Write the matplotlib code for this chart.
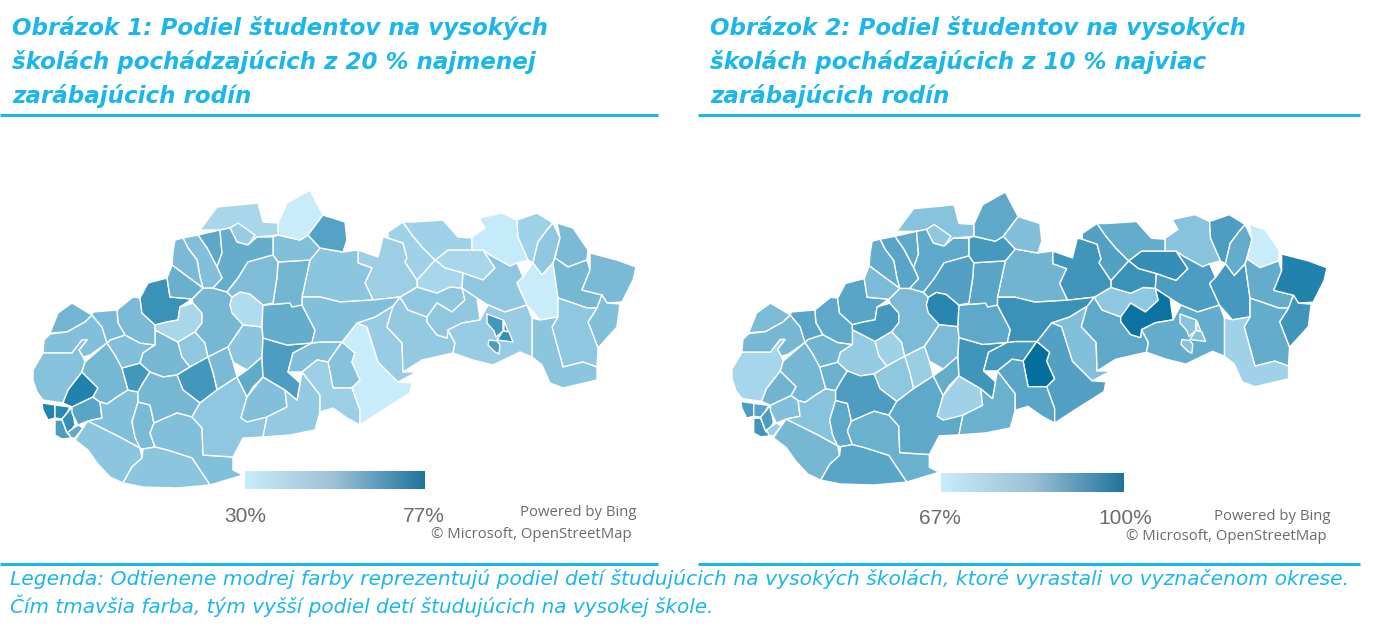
import matplotlib
matplotlib.use("Agg")
import matplotlib.pyplot as plt
import numpy as np
from matplotlib.collections import PolyCollection
from matplotlib.colors import LinearSegmentedColormap, Normalize

# okresy: obrysy odcitane z obrazka (x, y v pixeloch laveho obrazka)
okresy = {
    "Skalica": [(50,333),(58,313),(72,303),(92,315),(85,322),(67,332)],
    "Senica": [(50,334),(67,332),(85,322),(92,315),(102,327),(107,343),(90,355),(83,357),(79,350),(87,340),(82,340),(72,353),(43,353),(44,340)],
    "Malacky": [(33,370),(43,353),(72,353),(82,340),(87,340),(79,350),(83,357),(85,362),(82,372),(68,390),(63,403),(43,400),(37,392),(33,380)],
    "Pezinok": [(82,372),(98,388),(93,397),(72,407),(63,403),(68,390)],
    "Bratislava IV": [(42,403),(55,405),(55,418),(48,420),(43,410)],
    "Bratislava III": [(55,405),(70,407),(67,413),(62,419),(55,418)],
    "Bratislava V": [(55,420),(62,420),(67,433),(72,438),(62,439),(55,435)],
    "Bratislava II": [(62,419),(67,413),(72,407),(75,425),(70,432),(67,433)],
    "Bratislava I": [(68,432),(78,425),(83,428),(75,438),(71,438)],
    "Senec": [(72,407),(93,397),(100,402),(102,418),(88,421),(78,425),(72,413)],
    "Dunajska Streda": [(75,440),(83,428),(88,421),(100,427),(120,437),(140,448),(142,458),(132,467),(123,483),(110,477),(97,463),(88,450)],
    "Trnava": [(85,362),(107,343),(115,355),(122,368),(128,390),(117,397),(107,404),(100,402),(93,397),(98,388),(82,372)],
    "Galanta": [(102,418),(100,402),(107,404),(117,397),(128,390),(138,392),(138,402),(132,422),(135,437),(140,448),(120,437),(100,427),(88,421)],
    "Sala": [(138,402),(150,405),(154,423),(150,433),(155,447),(143,449),(140,448),(135,437),(132,422)],
    "Hlohovec": [(122,368),(140,363),(150,372),(143,383),(138,392),(128,390)],
    "Piestany": [(110,340),(125,335),(140,343),(155,345),(143,353),(140,363),(122,368),(115,355),(107,343)],
    "Topolcany": [(155,330),(178,342),(182,357),(190,367),(177,375),(163,377),(150,372),(140,363),(143,353),(155,345)],
    "Nove Mesto": [(117,310),(133,297),(140,298),(142,313),(155,325),(155,345),(140,343),(125,335),(118,323)],
    "Myjava": [(93,312),(117,310),(118,323),(125,335),(110,340),(107,343),(102,327),(92,315)],
    "Trencin": [(148,283),(167,278),(170,297),(192,299),(180,307),(178,320),(167,322),(155,325),(142,313),(140,298)],
    "Banovce": [(180,307),(193,303),(202,313),(202,323),(195,332),(178,342),(155,330),(155,325),(167,322),(178,320)],
    "Partizanske": [(195,332),(205,343),(208,357),(190,367),(182,357),(178,342)],
    "Prievidza": [(192,299),(203,288),(213,288),(227,292),(232,297),(230,305),(243,325),(228,347),(208,357),(205,343),(195,332),(202,323),(202,313),(193,303)],
    "Turcianske Teplice": [(232,297),(240,292),(250,294),(263,305),(262,327),(243,325),(232,313),(230,305)],
    "Ziar": [(243,325),(262,327),(263,338),(262,357),(247,370),(233,362),(228,347)],
    "Zarnovica": [(228,347),(233,362),(237,377),(217,390),(213,373),(208,357)],
    "Zlate Moravce": [(208,357),(213,373),(217,390),(200,403),(183,390),(177,375),(190,367)],
    "Nitra": [(150,372),(163,377),(177,375),(183,390),(200,403),(192,417),(177,413),(154,423),(150,405),(138,402),(138,392),(143,383)],
    "Nove Zamky": [(154,423),(177,413),(192,417),(202,428),(203,455),(233,457),(233,470),(243,475),(210,485),(192,458),(167,450),(155,447),(150,433)],
    "Komarno": [(123,483),(132,467),(142,458),(143,449),(155,447),(167,450),(192,458),(210,485),(177,488),(143,487)],
    "Levice": [(192,417),(200,403),(217,390),(237,377),(247,397),(241,418),(267,417),(263,437),(243,438),(233,457),(203,455),(202,428)],
    "Banska Stiavnica": [(237,377),(247,370),(262,357),(263,377),(253,387),(247,397)],
    "Krupina": [(247,397),(263,377),(285,390),(287,407),(267,417),(247,422),(241,418)],
    "Velky Krtis": [(267,417),(287,407),(285,390),(297,400),(302,372),(320,395),(320,412),(315,430),(290,435),(263,437)],
    "Zvolen": [(263,338),(287,345),(312,343),(293,353),(288,372),(300,383),(297,400),(285,390),(263,377),(262,357)],
    "Banska Bystrica": [(263,305),(290,303),(302,305),(315,330),(312,343),(287,345),(263,338),(262,327)],
    "Detva": [(312,343),(320,342),(342,342),(328,362),(317,360),(302,372),(288,372),(293,353)],
    "Poltar": [(328,362),(342,342),(355,353),(352,362),(360,380),(352,388),(333,388)],
    "Lucenec": [(302,372),(317,360),(328,362),(333,388),(352,388),(360,410),(360,425),(347,418),(333,408),(320,412),(320,395)],
    "Rimavska Sobota": [(342,342),(357,323),(367,327),(378,362),(398,382),(412,383),(410,393),(383,410),(360,425),(360,410),(352,388),(360,380),(352,362),(355,353)],
    "Revuca": [(357,323),(375,317),(393,306),(387,327),(402,343),(403,372),(417,372),(398,382),(378,362),(367,327)],
    "Roznava": [(393,306),(400,297),(408,310),(427,317),(427,322),(437,335),(447,338),(448,330),(455,343),(453,353),(422,360),(403,372),(402,343),(387,327)],
    "Spisska Nova Ves": [(400,297),(417,287),(437,293),(450,287),(462,288),(465,300),(452,312),(437,303),(427,317),(408,310)],
    "Gelnica": [(427,317),(437,303),(452,312),(465,300),(462,288),(477,298),(480,320),(462,323),(448,330),(447,338),(437,335),(427,322)],
    "Levoca": [(435,260),(448,250),(483,250),(495,268),(483,280),(463,273),(445,268)],
    "Sabinov": [(435,260),(445,268),(463,273),(462,288),(450,287),(437,293),(417,287),(417,280)],
    "Poprad": [(372,268),(365,283),(373,300),(400,297),(417,287),(417,280),(405,262),(407,258),(403,243),(388,238),(383,237),(378,257),(358,250),(358,263)],
    "Kezmarok": [(388,232),(403,222),(412,235),(422,247),(435,260),(417,280),(405,262),(407,258),(403,243),(388,238)],
    "Stara Lubovna": [(403,222),(413,222),(443,220),(458,237),(472,238),(472,250),(448,250),(435,260),(422,247),(412,235)],
    "Bardejov": [(472,237),(485,228),(479,218),(502,213),(517,220),(518,237),(528,260),(517,263),(510,266),(490,255),(483,250),(472,250)],
    "Presov": [(463,273),(483,280),(495,268),(483,250),(490,255),(510,266),(517,263),(523,277),(517,283),(527,305),(505,312),(488,305),(477,298),(462,288)],
    "Svidnik": [(517,220),(537,213),(553,223),(547,230),(538,242),(533,263),(528,260),(518,237)],
    "Stropkov": [(547,230),(553,223),(560,238),(553,263),(542,275),(533,263),(538,242)],
    "Medzilaborce": [(557,223),(573,228),(588,250),(587,260),(568,267),(555,258),(560,238)],
    "Vranov": [(533,263),(542,275),(553,263),(558,298),(558,317),(540,320),(527,305),(517,283),(523,277)],
    "Humenne": [(555,258),(568,267),(587,260),(590,270),(582,290),(602,295),(597,308),(587,308),(570,302),(558,298),(553,263)],
    "Snina": [(590,253),(617,260),(636,267),(633,280),(622,302),(607,303),(602,295),(582,290),(590,270)],
    "Sobrance": [(602,295),(607,303),(620,304),(617,327),(598,348),(588,322),(597,308)],
    "Michalovce": [(558,298),(570,302),(587,308),(597,308),(588,322),(598,348),(597,367),(583,362),(563,367),(552,327),(558,317)],
    "Trebisov": [(532,318),(540,320),(558,317),(552,327),(563,367),(583,362),(597,367),(597,380),(563,388),(550,383),(542,365),(532,357)],
    "Kosice okolie": [(448,330),(462,323),(480,320),(488,305),(505,312),(527,305),(532,318),(532,357),(520,352),(493,365),(473,360),(453,353),(455,343)],
    "Kosice I": [(487,314),(503,320),(503,331),(496,337),(494,331),(487,323)],
    "Kosice II": [(504,321),(508,331),(504,331)],
    "Kosice III": [(497,340),(503,331),(509,332),(513,342)],
    "Kosice IV": [(489,340),(497,341),(500,345),(499,354),(495,352),(488,345)],
    "Liptovsky Mikulas": [(320,248),(343,252),(358,250),(358,263),(372,268),(365,283),(373,300),(340,302),(320,297),(302,297),(310,260)],
    "Brezno": [(302,297),(320,297),(340,302),(373,300),(400,297),(393,306),(375,317),(357,323),(342,342),(320,342),(312,343),(315,330),(302,305)],
    "Ruzomberok": [(278,262),(310,260),(302,297),(302,305),(292,307),(290,303),(263,305),(273,303),(277,277)],
    "Dolny Kubin": [(273,237),(278,235),(300,240),(308,235),(320,248),(310,260),(278,262),(273,255)],
    "Namestovo": [(278,223),(287,203),(310,190),(323,215),(308,235),(300,240),(278,235)],
    "Tvrdosin": [(308,235),(323,215),(345,222),(347,240),(343,252),(320,248)],
    "Cadca": [(200,230),(217,207),(258,203),(263,222),(278,223),(278,235),(257,237),(248,245),(237,242),(230,228),(220,230)],
    "Kysucke Nove Mesto": [(230,228),(238,223),(255,235),(248,245),(237,242)],
    "Bytca": [(198,235),(220,230),(222,253),(217,267),(207,248)],
    "Zilina": [(220,230),(230,228),(237,242),(248,245),(257,237),(273,237),(273,255),(248,262),(238,278),(227,292),(213,288),(222,278),(217,267),(222,253)],
    "Povazska Bystrica": [(183,238),(198,235),(207,248),(217,267),(222,278),(213,288),(203,288),(200,277),(197,260),(188,248)],
    "Puchov": [(175,240),(183,238),(188,248),(197,260),(200,277),(203,288),(188,277),(172,265),(173,252)],
    "Ilava": [(172,265),(188,277),(203,288),(192,299),(170,297),(167,278)],
    "Martin": [(248,262),(273,255),(278,262),(277,277),(273,303),(263,305),(250,294),(240,292),(232,297),(227,292),(238,278)],
}

nazvy = list(okresy)

# podiel studentov z 20 % najmenej zarabajucich rodin (%)
podiel_najmenej = [51, 47, 46, 70, 70, 68, 60, 65, 55, 57, 45, 50, 47, 49, 62, 47, 50, 49, 49, 64,
                   38, 44, 50, 36, 45, 49, 62, 50, 47, 45, 44, 55, 47, 43, 60, 54, 47, 46, 41, 30,
                   42, 43, 44, 44, 38, 38, 41, 40, 40, 31, 44, 40, 44, 49, 30, 50, 49, 47, 44, 45,
                   42, 62, 68, 65, 60, 45, 47, 51, 47, 30, 58, 38, 42, 56, 54, 47, 49, 53, 48]

# podiel studentov z 10 % najviac zarabajucich rodin (%)
podiel_najviac = [80, 81, 73, 82, 88, 86, 90, 88, 75, 79, 81, 81, 78, 85, 83, 82, 76, 85, 86, 86,
                  89, 74, 80, 94, 80, 75, 77, 88, 83, 86, 85, 84, 74, 83, 90, 85, 89, 100, 86, 87,
                  79, 85, 77, 99, 92, 91, 90, 87, 84, 78, 88, 88, 84, 67, 89, 84, 95, 90, 84, 74,
                  84, 78, 78, 78, 78, 82, 91, 86, 89, 85, 79, 78, 77, 85, 85, 86, 84, 80, 87]

rozsah_najmenej = (30, 77)
rozsah_najviac = (67, 100)

nadpis1 = ["Obrázok 1: Podiel študentov na vysokých", "školách pochádzajúcich z 20 % najmenej", "zarábajúcich rodín"]
nadpis2 = ["Obrázok 2: Podiel študentov na vysokých", "školách pochádzajúcich z 10 % najviac", "zarábajúcich rodín"]
legenda1 = "Legenda: Odtienene modrej farby reprezentujú podiel detí študujúcich na vysokých školách, ktoré vyrastali vo vyznačenom okrese."
legenda2 = "Čím tmavšia farba, tým vyšší podiel detí študujúcich na vysokej škole."

W, H = 1377, 636
MODRA = "#1BB7EC"
SIVA = "#6b6b6b"
mapa_cmap = LinearSegmentedColormap.from_list("mapa", ["#C9ECFB", "#0570A0"])
skala_cmap = LinearSegmentedColormap.from_list("skala", ["#C9ECFB", "#9CC0D5", "#1F749E"])


def osi(fig, x0, y0, w, h):
    # obdlznik v pixeloch obrazka -> osi
    return fig.add_axes([x0 / W, 1 - (y0 + h) / H, w / W, h / H])


def mapa(ax, hodnoty, rozsah):
    polys = [okresy[n] for n in nazvy]
    kol = PolyCollection(polys, array=np.array(hodnoty), cmap=mapa_cmap,
                         norm=Normalize(*rozsah), edgecolors="white", linewidths=1.0)
    ax.add_collection(kol)
    ax.set_xlim(25, 645)
    ax.set_ylim(500, 180)
    ax.axis("off")


def skala(ax, rozsah):
    ax.imshow(np.linspace(rozsah[0], rozsah[1], 256)[np.newaxis, :], aspect="auto", cmap=skala_cmap)
    ax.axis("off")


def text(x, y, s, **kw):
    fig.text(x / W, 1 - y / H, s, **kw)


fig = plt.figure(figsize=(W / 100, H / 100), dpi=100)

mapa(osi(fig, 25, 180, 620, 320), podiel_najmenej, rozsah_najmenej)
mapa(osi(fig, 724.1, 182.2, 611.8, 314.6), podiel_najviac, rozsah_najviac)

skala(osi(fig, 245, 471, 179, 18), rozsah_najmenej)
skala(osi(fig, 941, 473, 183, 19), rozsah_najviac)

for x0, nadpis in [(12, nadpis1), (710, nadpis2)]:
    for i, riadok in enumerate(nadpis):
        text(x0, 28 + 34 * i, riadok, color=MODRA, fontsize=16.6, fontweight="bold",
             style="italic", va="center", ha="left", family="DejaVu Sans")

for x0, x1 in [(0, 658), (698, 1360)]:
    for y in (114.5, 563.5):
        fig.add_artist(plt.Line2D([x0 / W, x1 / W], [1 - y / H, 1 - y / H], color=MODRA, lw=2.2,
                                  solid_capstyle="butt"))

text(10, 579, legenda1, color=MODRA, fontsize=14.55, style="italic", va="center", family="DejaVu Sans")
text(10, 606, legenda2, color=MODRA, fontsize=14.4, style="italic", va="center", family="DejaVu Sans")

for x, y, s in [(245, 516, "30%"), (424, 516, "77%"), (940, 518, "67%"), (1125, 518, "100%")]:
    text(x, y, s, color=SIVA, fontsize=15, ha="center", va="center", family="Liberation Sans")

for x, y, s in [(637, 513, "Powered by Bing"), (632, 534, "© Microsoft, OpenStreetMap"),
                (1330, 516, "Powered by Bing"), (1327, 536, "© Microsoft, OpenStreetMap")]:
    text(x, y, s, color=SIVA, fontsize=10.7, ha="right", va="center", family="Open Sans")

fig.savefig("out.png", dpi=100)
